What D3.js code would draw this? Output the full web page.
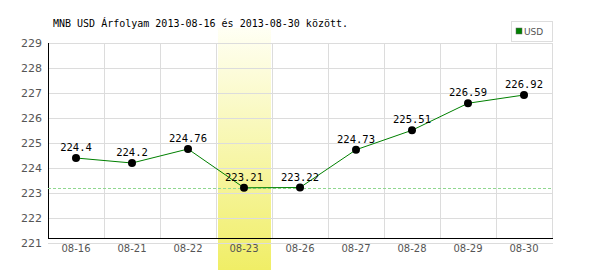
<!DOCTYPE html>
<html><head><meta charset="utf-8">
<script src="https://cdn.jsdelivr.net/npm/d3@7"></script>
<style>body{margin:0;background:#fff}svg{display:block}</style>
</head><body>
<script>
const categories = ["08-16","08-21","08-22","08-23","08-26","08-27","08-28","08-29","08-30"];
const values = [224.4, 224.2, 224.76, 223.21, 223.22, 224.73, 225.51, 226.59, 226.92];
const labels = ["224.4","224.2","224.76","223.21","223.22","224.73","225.51","226.59","226.92"];
const yTicks = [221,222,223,224,225,226,227,228,229];
const highlight = "08-23";
const title = "MNB USD Árfolyam 2013-08-16 és 2013-08-30 között.";
const seriesName = "USD";

const W=600,H=270;
const svg=d3.select("body").append("svg").attr("width",W).attr("height",H);
const defs=svg.append("defs");
const g=defs.append("linearGradient").attr("id","hl").attr("x1",0).attr("y1",0).attr("x2",0).attr("y2",1);
g.append("stop").attr("offset","0%").attr("stop-color","#fffff4");
g.append("stop").attr("offset","100%").attr("stop-color","#f0ee66");

const x=d3.scaleBand().domain(categories).range([48,552]);
const y=d3.scaleLinear().domain([221,229]).range([243,43]);

// highlight band
svg.append("rect").attr("x",x(highlight)+2).attr("y",28).attr("width",x.bandwidth()-3).attr("height",H-28).attr("fill","url(#hl)");

// grid
svg.append("g").selectAll("line").data(yTicks).join("line")
 .attr("x1",48).attr("x2",553).attr("y1",d=>Math.round(y(d))+0.5).attr("y2",d=>Math.round(y(d))+0.5)
 .attr("stroke","#dcdcdc").attr("stroke-width",1);
svg.append("g").selectAll("line").data(categories).join("line")
 .attr("x1",d=>Math.round(x(d)+x.bandwidth())+0.5).attr("x2",d=>Math.round(x(d)+x.bandwidth())+0.5)
 .attr("y1",43).attr("y2",238).attr("stroke","#dcdcdc");

// axes lines
svg.append("line").attr("x1",48.5).attr("x2",48.5).attr("y1",43).attr("y2",238.5).attr("stroke","#000");
svg.append("line").attr("x1",48).attr("x2",553).attr("y1",238.5).attr("y2",238.5).attr("stroke","#000");

// y tick labels
svg.append("g").selectAll("text").data(yTicks).join("text")
 .attr("x",42).attr("y",d=>y(d)+4).attr("text-anchor","end")
 .attr("font-family","DejaVu Sans").attr("font-size",11).attr("fill","#555").text(d=>d);
// x tick labels
svg.append("g").selectAll("text").data(categories).join("text")
 .attr("x",d=>x(d)+x.bandwidth()/2).attr("y",252).attr("text-anchor","middle")
 .attr("font-family","DejaVu Sans").attr("font-size",10).attr("fill","#555").text(d=>d);

// min dashed line
const minV=d3.min(values);
svg.append("line").attr("x1",48).attr("x2",553).attr("y1",Math.round(y(minV))+0.5).attr("y2",Math.round(y(minV))+0.5)
 .attr("stroke","#90d890").attr("stroke-dasharray","3,2");

// line
const pts=categories.map((c,i)=>[x(c)+x.bandwidth()/2,y(values[i])]);
svg.append("path").attr("d",d3.line()(pts)).attr("fill","none").attr("stroke","#008000").attr("stroke-width",1);
svg.append("g").selectAll("circle").data(pts).join("circle")
 .attr("cx",d=>d[0]).attr("cy",d=>d[1]).attr("r",4).attr("fill","#000");
svg.append("g").selectAll("text").data(pts).join("text")
 .attr("x",d=>d[0]).attr("y",(d,i)=>d[1]-7).attr("text-anchor","middle")
 .attr("font-family","DejaVu Sans Mono").attr("font-size",10.5).attr("fill","#000").text((d,i)=>labels[i]);

// title
svg.append("text").attr("x",53).attr("y",27).attr("font-family","DejaVu Sans Mono").attr("font-size",10).attr("fill","#000").text(title);

// legend
svg.append("rect").attr("x",511.5).attr("y",21.5).attr("width",41).attr("height",20).attr("fill","#fff").attr("stroke","#ddd");
svg.append("rect").attr("x",516).attr("y",28).attr("width",6).attr("height",6).attr("fill","#008000").attr("stroke","#666").attr("stroke-width",0.5);
svg.append("text").attr("x",524).attr("y",35).attr("font-family","DejaVu Sans").attr("font-size",9).attr("fill","#555").text(seriesName);
</script>
</body></html>
